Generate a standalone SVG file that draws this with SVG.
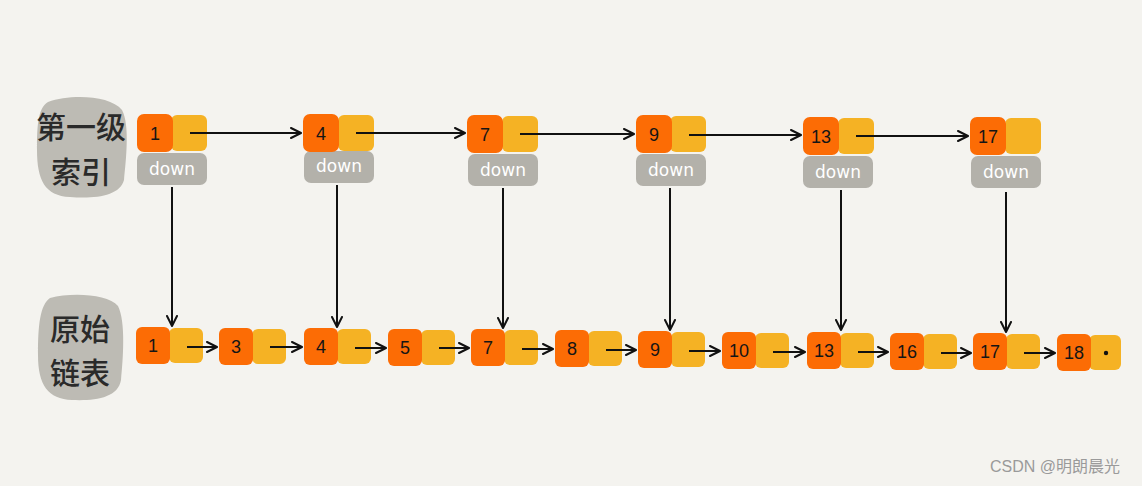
<svg xmlns="http://www.w3.org/2000/svg" width="1142" height="486" viewBox="0 0 1142 486">
<style>
.bg{fill:#f4f3ef}
.blob{fill:#bdbbb4}
.lbl{font-family:"Noto Sans CJK SC","Noto Sans",sans-serif;font-size:30px;font-weight:500;fill:#2a2a2a;text-anchor:middle}
.o{fill:#fc6c05}
.y{fill:#f5b224}
.d{fill:#b3b1aa}
.num{font-family:"Liberation Sans",sans-serif;font-size:18px;fill:#151515;text-anchor:middle}
.dt{font-family:"DejaVu Sans",sans-serif;font-size:17px;fill:#ffffff;text-anchor:middle}
.c{stroke:#111;stroke-width:2;fill:none;marker-end:url(#ah)}
.wm{font-family:"Liberation Sans","Noto Sans CJK SC",sans-serif;font-size:16px;fill:#9a9a9a}
</style>
<defs>
<marker id="ah" viewBox="0 0 12 12" refX="11" refY="6" markerWidth="12" markerHeight="12" markerUnits="userSpaceOnUse" orient="auto">
<path d="M1,1 L11,6 L1,11" fill="none" stroke="#111" stroke-width="2" stroke-linecap="round" stroke-linejoin="round"/>
</marker>
</defs>
<rect class="bg" x="0" y="0" width="1142" height="486"/>

<g id="label-top">
<path class="blob" d="M48,102 C70,94 110,95 122,110 C130,125 126,160 124,180 C120,196 95,199 70,197 C45,196 37,180 37,150 C37,125 38,108 48,102 Z"/>
<text class="lbl" x="81" y="138">第一级</text>
<text class="lbl" x="81" y="183">索引</text>
</g>
<g id="label-bottom">
<path class="blob" d="M50,298 C72,292 108,294 118,306 C126,322 123,360 121,380 C118,398 95,401 72,400 C48,399 38,385 38,355 C38,325 40,305 50,298 Z"/>
<text class="lbl" x="80" y="340">原始</text>
<text class="lbl" x="80" y="384">链表</text>
</g>

<g id="t1"><rect class="d" x="137" y="153" width="70" height="32" rx="7"/><rect class="y" x="171" y="115" width="36" height="36" rx="6"/><rect class="o" x="137" y="114" width="36" height="38" rx="7"/><text class="num" x="155" y="140">1</text><text class="dt" x="172" y="175">down</text></g>
<g id="t4"><rect class="d" x="304" y="151" width="70" height="32" rx="7"/><rect class="y" x="338" y="115" width="36" height="36" rx="6"/><rect class="o" x="303" y="114" width="36" height="38" rx="7"/><text class="num" x="321" y="140">4</text><text class="dt" x="339" y="172">down</text></g>
<g id="t7"><rect class="d" x="468" y="154" width="70" height="32" rx="7"/><rect class="y" x="502" y="116" width="36" height="36" rx="6"/><rect class="o" x="467" y="115" width="36" height="38" rx="7"/><text class="num" x="485" y="141">7</text><text class="dt" x="503" y="176">down</text></g>
<g id="t9"><rect class="d" x="636" y="154" width="70" height="32" rx="7"/><rect class="y" x="670" y="116" width="36" height="36" rx="6"/><rect class="o" x="636" y="115" width="36" height="38" rx="7"/><text class="num" x="654" y="141">9</text><text class="dt" x="671" y="176">down</text></g>
<g id="t13"><rect class="d" x="803" y="156" width="70" height="32" rx="7"/><rect class="y" x="838" y="118" width="36" height="36" rx="6"/><rect class="o" x="803" y="117" width="36" height="38" rx="7"/><text class="num" x="821" y="143">13</text><text class="dt" x="838" y="178">down</text></g>
<g id="t17"><rect class="d" x="971" y="156" width="70" height="32" rx="7"/><rect class="y" x="1005" y="118" width="36" height="36" rx="6"/><rect class="o" x="970" y="117" width="36" height="38" rx="7"/><text class="num" x="988" y="143">17</text><text class="dt" x="1006" y="178">down</text></g>

<g id="b1"><rect class="y" x="169" y="328" width="34" height="35" rx="6"/><rect class="o" x="136" y="327" width="34" height="37" rx="6"/><text class="num" x="153" y="352">1</text></g>
<g id="b3"><rect class="y" x="252" y="329" width="34" height="35" rx="6"/><rect class="o" x="219" y="328" width="34" height="37" rx="6"/><text class="num" x="236" y="353">3</text></g>
<g id="b4"><rect class="y" x="337" y="329" width="34" height="35" rx="6"/><rect class="o" x="304" y="328" width="34" height="37" rx="6"/><text class="num" x="321" y="353">4</text></g>
<g id="b5"><rect class="y" x="421" y="330" width="34" height="35" rx="6"/><rect class="o" x="388" y="329" width="34" height="37" rx="6"/><text class="num" x="405" y="354">5</text></g>
<g id="b7"><rect class="y" x="504" y="330" width="34" height="35" rx="6"/><rect class="o" x="471" y="329" width="34" height="37" rx="6"/><text class="num" x="488" y="354">7</text></g>
<g id="b8"><rect class="y" x="588" y="331" width="34" height="35" rx="6"/><rect class="o" x="555" y="330" width="34" height="37" rx="6"/><text class="num" x="572" y="355">8</text></g>
<g id="b9"><rect class="y" x="671" y="332" width="34" height="35" rx="6"/><rect class="o" x="638" y="331" width="34" height="37" rx="6"/><text class="num" x="655" y="356">9</text></g>
<g id="b10"><rect class="y" x="755" y="333" width="34" height="35" rx="6"/><rect class="o" x="722" y="332" width="34" height="37" rx="6"/><text class="num" x="739" y="357">10</text></g>
<g id="b13"><rect class="y" x="840" y="333" width="34" height="35" rx="6"/><rect class="o" x="807" y="332" width="34" height="37" rx="6"/><text class="num" x="824" y="357">13</text></g>
<g id="b16"><rect class="y" x="923" y="334" width="34" height="35" rx="6"/><rect class="o" x="890" y="333" width="34" height="37" rx="6"/><text class="num" x="907" y="358">16</text></g>
<g id="b17"><rect class="y" x="1006" y="334" width="34" height="35" rx="6"/><rect class="o" x="973" y="333" width="34" height="37" rx="6"/><text class="num" x="990" y="358">17</text></g>
<g id="b18"><rect class="y" x="1089" y="335" width="32" height="35" rx="6"/><rect class="o" x="1057" y="334" width="34" height="37" rx="6"/><text class="num" x="1074" y="359">18</text><circle cx="1106" cy="353" r="2.2" fill="#111"/></g>

<g id="connectors">
<line class="c" x1="190" y1="133" x2="301" y2="133"/>
<line class="c" x1="356" y1="133" x2="465" y2="133"/>
<line class="c" x1="520" y1="134" x2="634" y2="134"/>
<line class="c" x1="689" y1="135" x2="801" y2="135"/>
<line class="c" x1="856" y1="136" x2="968" y2="136"/>
<line class="c" x1="172" y1="187" x2="172" y2="326"/>
<line class="c" x1="337" y1="185" x2="337" y2="327"/>
<line class="c" x1="503" y1="188" x2="503" y2="328"/>
<line class="c" x1="670" y1="188" x2="670" y2="330"/>
<line class="c" x1="841" y1="190" x2="841" y2="330"/>
<line class="c" x1="1006" y1="192" x2="1006" y2="332"/>
<line class="c" x1="187" y1="347" x2="217" y2="347"/>
<line class="c" x1="270" y1="347" x2="302" y2="347"/>
<line class="c" x1="355" y1="348" x2="386" y2="348"/>
<line class="c" x1="439" y1="348" x2="469" y2="348"/>
<line class="c" x1="522" y1="349" x2="553" y2="349"/>
<line class="c" x1="606" y1="350" x2="636" y2="350"/>
<line class="c" x1="689" y1="351" x2="720" y2="351"/>
<line class="c" x1="773" y1="352" x2="805" y2="352"/>
<line class="c" x1="858" y1="352" x2="888" y2="352"/>
<line class="c" x1="941" y1="353" x2="971" y2="353"/>
<line class="c" x1="1024" y1="353" x2="1055" y2="353"/>
</g>

<text class="wm" x="990" y="472">CSDN @明朗晨光</text>
</svg>
